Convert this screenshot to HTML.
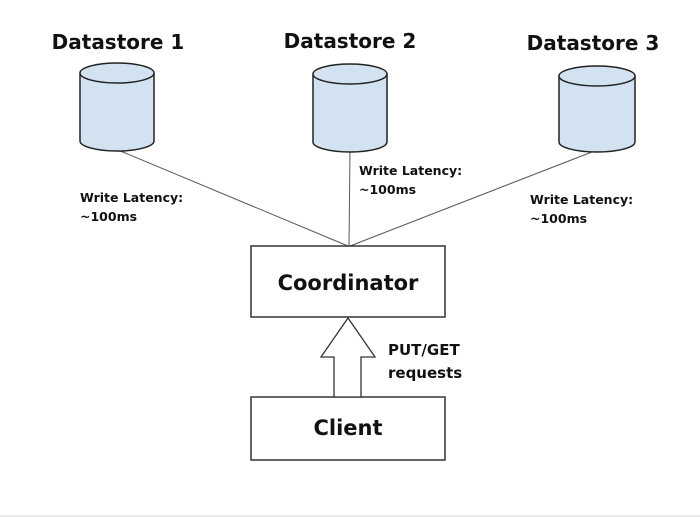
<!DOCTYPE html>
<html><head><meta charset="utf-8"><style>
html,body{margin:0;padding:0;background:#fff;}
svg{display:block;}
text{font-family:"DejaVu Sans","Liberation Sans",sans-serif;font-weight:bold;fill:#111;}
</style></head><body>
<svg width="700" height="517" viewBox="0 0 700 517" xmlns="http://www.w3.org/2000/svg">
<rect x="0" y="0" width="700" height="517" fill="#fff"/>
<rect x="0" y="515" width="700" height="2" fill="#eee"/>
<g font-size="20">
<text x="118" y="49" text-anchor="middle">Datastore 1</text>
<text x="350" y="48" text-anchor="middle">Datastore 2</text>
<text x="593" y="50" text-anchor="middle">Datastore 3</text>
</g>
<g stroke="#555" stroke-width="1" fill="none">
<line x1="118" y1="150" x2="348" y2="246"/>
<line x1="350" y1="150" x2="349" y2="246"/>
<line x1="597" y1="150" x2="350" y2="246"/>
</g>
<g stroke="#222" stroke-width="1.5" fill="#d3e2f1">
<path d="M80,73 v68 a37,10 0 0 0 74,0 v-68"/>
<ellipse cx="117" cy="73" rx="37" ry="10"/>
<path d="M313,74 v68 a37,10 0 0 0 74,0 v-68"/>
<ellipse cx="350" cy="74" rx="37" ry="10"/>
<path d="M559,76 v66 a38,10 0 0 0 76,0 v-66"/>
<ellipse cx="597" cy="76" rx="38" ry="10"/>
</g>
<g font-size="12.5">
<text x="80" y="202">Write Latency:</text>
<text x="80" y="221">~100ms</text>
<text x="359" y="175">Write Latency:</text>
<text x="359" y="194">~100ms</text>
<text x="530" y="204">Write Latency:</text>
<text x="530" y="223">~100ms</text>
</g>
<rect x="251" y="246" width="194" height="71" fill="#fff" stroke="#333" stroke-width="1.5"/>
<rect x="251" y="397" width="194" height="63" fill="#fff" stroke="#333" stroke-width="1.5"/>
<path d="M348,318 L375,357 L361,357 L361,397 L334,397 L334,357 L321,357 Z" fill="#fff" stroke="#333" stroke-width="1.3"/>
<text x="348" y="290" font-size="21" text-anchor="middle">Coordinator</text>
<text x="348" y="435" font-size="21" text-anchor="middle">Client</text>
<text x="388" y="355" font-size="15">PUT/GET</text>
<text x="388" y="378" font-size="15">requests</text>
</svg>
</body></html>
